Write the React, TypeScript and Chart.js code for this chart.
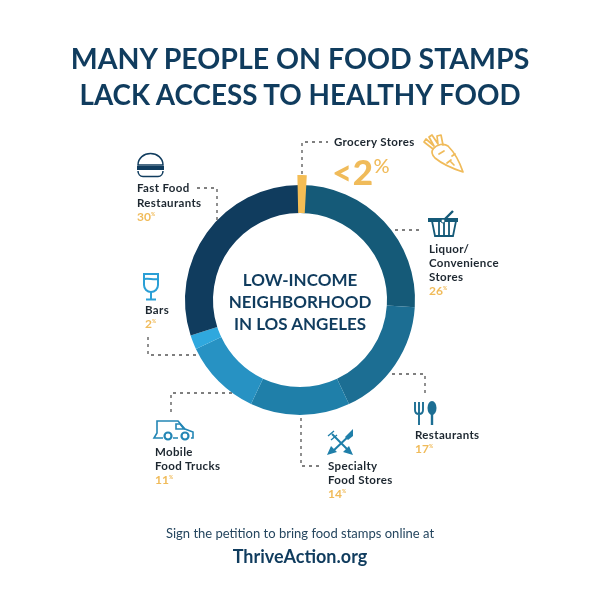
import React, { useEffect, useRef } from "react";
import { Chart, registerables } from "chart.js";

Chart.register(...registerables);

const categories = ["Grocery Stores", "Liquor/Convenience Stores", "Restaurants", "Specialty Food Stores", "Mobile Food Trucks", "Bars", "Fast Food Restaurants"];
const shareValues = [0, 26, 17, 14, 11, 2, 30];
const groceryValues = [1.2, 98.8, 0, 0, 0, 0, 0];
const shareColors = ["#f4bd55", "#155a78", "#1c6e93", "#1f7fa9", "#2792c3", "#2fa8de", "#103c5e"];
const groceryColors = ["#f4bd55", "rgba(0,0,0,0)", "rgba(0,0,0,0)", "rgba(0,0,0,0)", "rgba(0,0,0,0)", "rgba(0,0,0,0)", "rgba(0,0,0,0)"];

const NAVY = "#103c5e";
const GOLD = "#f0bb5a";
const INK = "#1d2730";
const FONT = "Lato, 'Open Sans', sans-serif";

const ringPlugin = {
  id: "ringRadii",
  afterDatasetsUpdate(chart: any) {
    chart.getDatasetMeta(0).data.forEach((a: any) => { a.outerRadius = 125; a.innerRadius = 87; });
    chart.getDatasetMeta(1).data.forEach((a: any) => { a.outerRadius = 115; a.innerRadius = 87; });
  },
};

function T({ x, y, size, color = INK, weight = 500, children, center, spacing }: any) {
  return (
    <div style={{
      position: "absolute", left: center ? 0 : x, width: center ? 600 : undefined, top: y,
      fontSize: size, color, fontWeight: weight, fontFamily: FONT, lineHeight: 1,
      whiteSpace: "nowrap", textAlign: center ? "center" : "left", letterSpacing: spacing,
    }}>{children}</div>
  );
}

function L({ x, y, children }: any) {
  return <T x={x} y={y} size={11.5} weight={700} spacing={0.35}>{children}</T>;
}

function Pct({ x, y, v }: any) {
  return <T x={x} y={y} size={12} color={GOLD} weight={700}>{v}<span style={{ fontSize: 5, verticalAlign: "super" }}>%</span></T>;
}

export default function App() {
  const ref = useRef<HTMLCanvasElement | null>(null);
  useEffect(() => {
    const chart = new Chart(ref.current!, {
      type: "doughnut",
      data: {
        labels: categories,
        datasets: [
          { data: groceryValues, backgroundColor: groceryColors, borderWidth: 0, rotation: -1.2 } as any,
          { data: shareValues, backgroundColor: shareColors, borderWidth: 0 },
        ],
      },
      options: {
        responsive: false,
        animation: false,
        plugins: { legend: { display: false }, tooltip: { enabled: false } },
      },
      plugins: [ringPlugin],
    });
    return () => chart.destroy();
  }, []);

  const dash = { fill: "none", stroke: "#555", strokeWidth: 1.3, strokeDasharray: "3 4" };
  return (
    <div style={{ position: "absolute", left: 0, top: 0, width: 600, height: 600, background: "#fff", overflow: "hidden" }}>
      <canvas ref={ref} width={600} height={600} style={{ position: "absolute", left: 0, top: 0 }} />
      <svg width={600} height={600} style={{ position: "absolute", left: 0, top: 0 }}>
        <path d="M302 174V142H328" {...dash} />
        <path d="M197 188H217V220" {...dash} />
        <path d="M395 230H420" {...dash} />
        <path d="M148 337V355H197" {...dash} />
        <path d="M392 374H425V394" {...dash} />
        <path d="M301 418V466H322" {...dash} />
        <path d="M171 412V393H232" {...dash} />
        {/* burger */}
        <g fill="none" stroke={NAVY} strokeWidth="1.5">
          <path d="M138 165c0-7 6-11.500 12.500-11.500s12.500 4.500 12.500 11.500z" fill="#fff" />
          <path d="M138 171c0 3 2 5.500 5 5.500h15c3 0 5-2.500 5-5.500" />
        </g>
        <rect x="137" y="166" width="27" height="4" fill={NAVY} />
        {/* carrot */}
        <g fill="none" stroke={GOLD} strokeWidth="1.7" strokeLinejoin="round" strokeLinecap="round">
          <path d="M433 149c4-5 11-6 15-3 6 6 12 17 15 26-9-3-22-9-28-14-3-3-4-6-2-9z" />
          <path d="M433 149l-9-7 2-3 8 7-5-9 3-2 6 9-1-8 4-1 2 10" />
          <path d="M439 154l5-3M447 163l4-3M452 156l3-2M454 165l-3-3" />
        </g>
        {/* basket */}
        <g fill="none" stroke="#155a78" strokeWidth="1.8">
          <path d="M432 221l3 15h18l3-15" />
          <path d="M439 221v15M444 221v15M449 221v15" />
          <path d="M444 220l9-9" strokeWidth="2.400" />
        </g>
        <rect x="428" y="218" width="30" height="4" fill="#155a78" />
        <circle cx="443" cy="221" r="2" fill="#fff" stroke="#155a78" strokeWidth="1" />
        {/* wine glass */}
        <g fill="none" stroke="#2a9fd6" strokeWidth="2">
          <path d="M144 274h14v11a7 7 0 0 1-14 0z" />
          <path d="M144 279c5-1 9 1 14 0" />
          <path d="M151 292v7M146 299.500h10" />
        </g>
        {/* fork & spoon */}
        <g fill="none" stroke="#1c6e93" strokeWidth="1.9">
          <path d="M415 402v8c0 2.500 1.500 4 4 4s4-1.500 4-4v-8M419 402v23" />
          <path d="M432 412v13" strokeWidth="2.400" />
        </g>
        <ellipse cx="432" cy="408" rx="4.500" ry="7" fill="#1c6e93" />
        {/* crossed arrows */}
        <g fill="none" stroke="#1f7fa9" strokeWidth="2">
          <path d="M332 434l18 18M352 433l-20 19" />
          <path d="M328 436l6-5M331 440l6-5" strokeWidth="1.300" />
        </g>
        <path d="M327 455l4-9 6 6zM353 455l-4-9-6 6zM353 429l0 7-5 4-3-3z" fill="#1f7fa9" />
        {/* truck */}
        <g fill="none" stroke="#2386b5" strokeWidth="1.6">
          <path d="M163 438h-9l3-5V421h21l7 8 8 3v6h-2M173 438h5" />
          <path d="M176 424h4l4 5h-8z" />
          <circle cx="168" cy="436" r="3.500" strokeWidth="2.200" />
          <circle cx="185" cy="436" r="3.500" strokeWidth="2.200" />
        </g>
      </svg>

      <T center y={44} size={28.500} color={NAVY} weight={700}>MANY PEOPLE ON FOOD STAMPS</T>
      <T center y={81} size={27.800} color={NAVY} weight={700}>LACK ACCESS TO HEALTHY FOOD</T>

      <T center y={271} size={17} color={NAVY} weight={700}>LOW-INCOME</T>
      <T center y={293} size={17} color={NAVY} weight={700}>NEIGHBORHOOD</T>
      <T center y={315} size={17} color={NAVY} weight={700}>IN LOS ANGELES</T>

      <L x={334} y={136}>Grocery Stores</L>
      <T x={332} y={154} size={35} color={GOLD} weight={900} spacing={0.5}>&lt;2<span style={{ fontSize: 20, fontWeight: 500, verticalAlign: 12 }}>%</span></T>

      <L x={137} y={182}>Fast Food</L>
      <L x={137} y={197}>Restaurants</L>
      <Pct x={137} y={211} v={30} />

      <L x={429} y={243}>Liquor/</L>
      <L x={429} y={257}>Convenience</L>
      <L x={429} y={271}>Stores</L>
      <Pct x={429} y={285} v={26} />

      <L x={145} y={304}>Bars</L>
      <Pct x={145} y={318} v={2} />

      <L x={415} y={429}>Restaurants</L>
      <Pct x={415} y={443} v={17} />

      <L x={328} y={460}>Specialty</L>
      <L x={328} y={474}>Food Stores</L>
      <Pct x={328} y={488} v={14} />

      <L x={155} y={446}>Mobile</L>
      <L x={155} y={460}>Food Trucks</L>
      <Pct x={155} y={474} v={11} />

      <T center y={527} size={13} color="#25465f" weight={400}>Sign the petition to bring food stamps online at</T>
      <T center y={547} size={18} color={NAVY} weight={700}>ThriveAction.org</T>
    </div>
  );
}
